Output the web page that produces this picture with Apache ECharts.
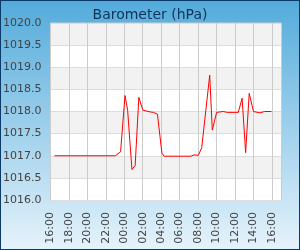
<!DOCTYPE html>
<html>
<head>
<meta charset="utf-8">
<script src="https://cdn.jsdelivr.net/npm/echarts@6/dist/echarts.min.js"></script>
<style>
html,body{margin:0;padding:0;}
#c{width:300px;height:250px;}
</style>
</head>
<body>
<div id="c"></div>
<script>
const titleText = "Barometer (hPa)";
// sample times (day 1 from 16:00, then next day)
const times = ["16:26","23:02","23:36","00:05","00:22","00:50","01:11","01:35","02:01","02:49","03:10","03:36","04:05","04:19","07:14","07:34","08:02","08:24","09:16","09:33","10:01","10:44","11:10","12:22","12:47","13:10","13:33","14:01","14:42","15:14","15:58"];
const pressure = [1017.0,1017.0,1017.09,1018.36,1018.03,1016.69,1016.78,1018.32,1018.03,1017.99,1017.98,1017.94,1017.06,1016.99,1016.99,1017.02,1017.01,1017.18,1018.82,1017.58,1017.98,1018.0,1017.98,1017.98,1018.3,1017.07,1018.41,1018.0,1017.97,1018.0,1018.0];
const startHour = 16;
const yMin = 1016, yMax = 1020, yStep = 0.5;

// convert clock times into hours elapsed since the start (16:00)
function toOffset(list){
  const out = [];
  let prev = -1, dayAdd = 0;
  for (const s of list){
    const [h,m] = s.split(':').map(Number);
    let v = h + m/60 - startHour;
    if (v < 0) v += 24;
    out.push(v);
  }
  return out;
}
const offsets = toOffset(times);
const seriesData = offsets.map((t,i)=>[t, pressure[i]]);

const chart = echarts.init(document.getElementById('c'), null, {renderer:'canvas'});
chart.setOption({
  animation:false,
  backgroundColor:{type:'linear',x:0,y:0,x2:0,y2:1,colorStops:[{offset:0,color:'#53abdb'},{offset:1,color:'#e6f3fb'}]},
  title:{text:titleText,left:'center',top:3,textStyle:{color:'#0f3358',fontSize:14,fontWeight:'normal',fontFamily:'DejaVu Sans'}},
  grid:{left:50,top:23,right:19,bottom:50,show:true,borderColor:'#cccccc',borderWidth:1,backgroundColor:'#ffffff'},
  xAxis:{type:'value',min:0,max:25,interval:2,
    axisLine:{show:false},axisTick:{show:false},
    splitLine:{show:true,lineStyle:{color:'#cccccc',width:1}},
    axisLabel:{rotate:90,margin:12,color:'#444444',fontSize:11,fontFamily:'DejaVu Sans',
      showMaxLabel:false,
      formatter:v=>{const h=(startHour+v)%24;return (h<10?'0':'')+h+':00';}}
  },
  yAxis:{type:'value',min:yMin,max:yMax,interval:yStep,
    axisLine:{show:false},axisTick:{show:false},
    splitLine:{show:true,lineStyle:{color:'#dddddd',width:1}},
    splitArea:{show:true,areaStyle:{color:['#ffffff','#f2f2f2']}},
    axisLabel:{margin:9,color:'#444444',fontSize:11,fontFamily:'DejaVu Sans',formatter:v=>v.toFixed(1)}
  },
  series:[{type:'line',data:seriesData,showSymbol:false,lineStyle:{color:'#ff0000',width:1},itemStyle:{color:'#ff0000'}}],
  graphic:[{type:'rect',silent:true,z:100,shape:{x:0,y:0,width:300,height:250},style:{fill:'none',stroke:'#0b3a68',lineWidth:2}}]
});
</script>
</body>
</html>
